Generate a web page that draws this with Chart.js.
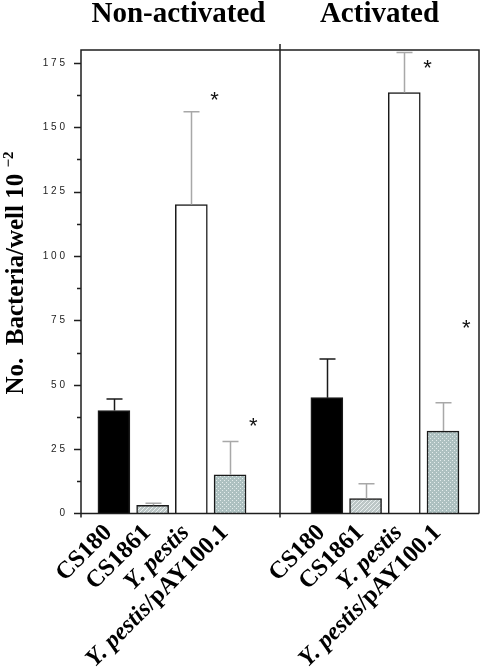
<!DOCTYPE html>
<html>
<head>
<meta charset="utf-8">
<script src="https://cdn.jsdelivr.net/npm/chart.js@4"></script>
<style>
  html, body { margin: 0; padding: 0; background: #fff; }
  canvas { display: block; }
</style>
</head>
<body>
<canvas id="chart" width="482" height="672"></canvas>
<script>
// values
const groups = ['Non-activated', 'Activated'];
const strains = ['CS180', 'CS1861', 'Y. pestis', 'Y. pestis/pAY100.1'];
const italicPart = 'Y. pestis';

const nonActivatedMeans = [40, 3.2, 120, 15];
const nonActivatedErrors = [4.5, 0.8, 36, 13];
const activatedMeans = [45, 5.8, 163.5, 32];
const activatedErrors = [15, 5.8, 15.5, 11];

// height of the significance asterisks (null = none)
const nonActivatedStars = [null, null, 163, 36.5];
const activatedStars = [null, null, 175.5, 74.5];

const yTicks = [0, 25, 50, 75, 100, 125, 150, 175];
const yMax = 180;
const yTitle = 'No.  Bacteria/well 10';
const yTitleSup = '\u22122';

const means = [nonActivatedMeans, activatedMeans];
const errors = [nonActivatedErrors, activatedErrors];
const stars = [nonActivatedStars, activatedStars];

// x position of a bar: 1..4 in first panel, 6.5..9.5 in second
const GROUP_GAP = 5.5;
const X_MIN = 0.15, X_MAX = 10.43;
function xOf(g, i) { return g * GROUP_GAP + i + 1; }

function makePattern(draw, size) {
  const c = document.createElement('canvas');
  c.width = size; c.height = size;
  draw(c.getContext('2d'));
  return document.getElementById('chart').getContext('2d').createPattern(c, 'repeat');
}

const hatch = makePattern(ctx => {
  ctx.fillStyle = '#bcc6c6';
  ctx.fillRect(0, 0, 4, 4);
  ctx.strokeStyle = '#e8eeee';
  ctx.lineWidth = 1;
  ctx.beginPath();
  ctx.moveTo(-1, 5); ctx.lineTo(5, -1);
  ctx.moveTo(-1, 1); ctx.lineTo(1, -1);
  ctx.moveTo(3, 5); ctx.lineTo(5, 3);
  ctx.stroke();
}, 4);

const stipple = makePattern(ctx => {
  ctx.fillStyle = '#adc0c0';
  ctx.fillRect(0, 0, 4, 4);
  ctx.fillStyle = '#e4ecec';
  ctx.fillRect(0, 0, 1, 1);
  ctx.fillRect(2, 2, 1, 1);
}, 4);

const fills = ['#000000', hatch, '#ffffff', stipple];
const errColors = ['#1a1a1a', '#a8a8a8', '#a8a8a8', '#a8a8a8'];

const barData = [];
const barFills = [];
groups.forEach((g, gi) => {
  strains.forEach((s, i) => {
    barData.push({ x: xOf(gi, i), y: means[gi][i] });
    barFills.push(fills[i]);
  });
});

const frameColor = '#1e1e1e';

const decorations = {
  id: 'decorations',
  afterDatasetsDraw(chart) {
    const ctx = chart.ctx;
    const xs = chart.scales.x, ys = chart.scales.y;
    const area = chart.chartArea;
    const meta = chart.getDatasetMeta(0);

    // error bars (upward only)
    ctx.save();
    ctx.lineWidth = 1.5;
    groups.forEach((g, gi) => {
      strains.forEach((s, i) => {
        const bar = meta.data[gi * strains.length + i];
        const x = Math.round(bar.x) + 0.5;
        const top = ys.getPixelForValue(means[gi][i] + errors[gi][i]);
        ctx.strokeStyle = errColors[i];
        ctx.beginPath();
        ctx.moveTo(x, bar.y);
        ctx.lineTo(x, top);
        ctx.moveTo(x - 8, top);
        ctx.lineTo(x + 8, top);
        ctx.stroke();
      });
    });
    ctx.restore();

    // asterisks
    ctx.save();
    ctx.fillStyle = '#111';
    ctx.font = '22px "Liberation Sans"';
    ctx.textAlign = 'center';
    ctx.textBaseline = 'alphabetic';
    groups.forEach((g, gi) => {
      stars[gi].forEach((v, i) => {
        if (v === null) return;
        const x = xs.getPixelForValue(xOf(gi, i) + 0.6);
        const y = ys.getPixelForValue(v);
        ctx.fillText('*', x, y + 13);
      });
    });
    ctx.restore();

    // frame, axes and ticks
    const mid = (area.left + area.right) / 2;
    ctx.save();
    ctx.strokeStyle = frameColor;
    ctx.lineWidth = 1.5;
    ctx.beginPath();
    ctx.moveTo(area.left, area.bottom);
    ctx.lineTo(area.left, area.top);
    ctx.lineTo(area.right, area.top);
    ctx.lineTo(area.right, area.bottom);
    ctx.moveTo(area.left - 7, area.bottom);
    ctx.lineTo(area.right, area.bottom);
    ctx.moveTo(mid, area.top - 6);
    ctx.lineTo(mid, area.bottom + 4);
    ctx.moveTo(area.left, area.bottom);
    ctx.lineTo(area.left, area.bottom + 4);
    ys.ticks.forEach(t => {
      if (t.value % 12.5 !== 0 || t.value === 0) return;
      const y = Math.round(ys.getPixelForValue(t.value)) + 0.5;
      const len = yTicks.includes(t.value) ? 7 : 4;
      ctx.moveTo(area.left - len, y);
      ctx.lineTo(area.left, y);
    });
    ctx.stroke();
    ctx.restore();

    // panel titles
    ctx.save();
    ctx.fillStyle = '#000';
    ctx.font = 'bold 29px "Liberation Serif"';
    ctx.textAlign = 'center';
    ctx.textBaseline = 'alphabetic';
    ctx.fillText(groups[0], (area.left + mid) / 2 - 2, 22);
    ctx.fillText(groups[1], (mid + area.right) / 2, 22);
    ctx.restore();

    // rotated category labels, italic species name
    ctx.save();
    ctx.fillStyle = '#000';
    const size = 24.5;
    const upright = 'bold ' + size + 'px "Liberation Serif"';
    const slanted = 'italic bold ' + size + 'px "Liberation Serif"';
    groups.forEach((g, gi) => {
      strains.forEach((s, i) => {
        const bar = meta.data[gi * strains.length + i];
        const parts = [];
        if (s.startsWith(italicPart)) {
          parts.push([italicPart, slanted]);
          if (s.length > italicPart.length) parts.push([s.slice(italicPart.length), upright]);
        } else {
          parts.push([s, upright]);
        }
        let total = 0;
        parts.forEach(p => { ctx.font = p[1]; total += ctx.measureText(p[0]).width; });
        ctx.save();
        ctx.translate(bar.x - 1, area.bottom + 20);
        ctx.rotate(-Math.PI / 4);
        ctx.textAlign = 'left';
        ctx.textBaseline = 'alphabetic';
        let x = -total;
        parts.forEach(p => {
          ctx.font = p[1];
          ctx.fillText(p[0], x, 0);
          x += ctx.measureText(p[0]).width;
        });
        ctx.restore();
      });
    });
    ctx.restore();

    // y axis title with superscript
    ctx.save();
    ctx.fillStyle = '#000';
    const mainFont = 'bold 25px "Liberation Serif"';
    const supFont = 'bold 15px "Liberation Serif"';
    ctx.font = mainFont;
    const w1 = ctx.measureText(yTitle + ' ').width;
    ctx.font = supFont;
    const w2 = ctx.measureText(yTitleSup).width;
    ctx.translate(23, 273);
    ctx.rotate(-Math.PI / 2);
    ctx.textAlign = 'left';
    ctx.textBaseline = 'alphabetic';
    const start = -(w1 + w2) / 2;
    ctx.font = mainFont;
    ctx.fillText(yTitle + ' ', start, 0);
    ctx.font = supFont;
    ctx.fillText(yTitleSup, start + w1, -10);
    ctx.restore();
  }
};

new Chart(document.getElementById('chart'), {
  type: 'bar',
  data: {
    datasets: [{
      data: barData,
      backgroundColor: barFills,
      borderColor: '#1a1a1a',
      borderWidth: 1.5,
      barThickness: 32
    }]
  },
  options: {
    responsive: false,
    animation: false,
    events: [],
    layout: { padding: { top: 50, right: 3, bottom: 158.5, left: 0 } },
    plugins: {
      legend: { display: false },
      tooltip: { enabled: false }
    },
    scales: {
      x: {
        type: 'linear',
        min: X_MIN,
        max: X_MAX,
        offset: false,
        display: false
      },
      y: {
        min: 0,
        max: yMax,
        afterFit(scale) { scale.width = 81; },
        border: { display: false },
        grid: { display: false, drawTicks: false },
        ticks: {
          stepSize: 12.5,
          padding: 16,
          color: '#222',
          font: { family: '"Liberation Sans"', size: 10 },
          callback: v => yTicks.includes(v) ? String(v).split('').join(' ') : ''
        }
      }
    }
  },
  plugins: [decorations]
});
</script>
</body>
</html>
